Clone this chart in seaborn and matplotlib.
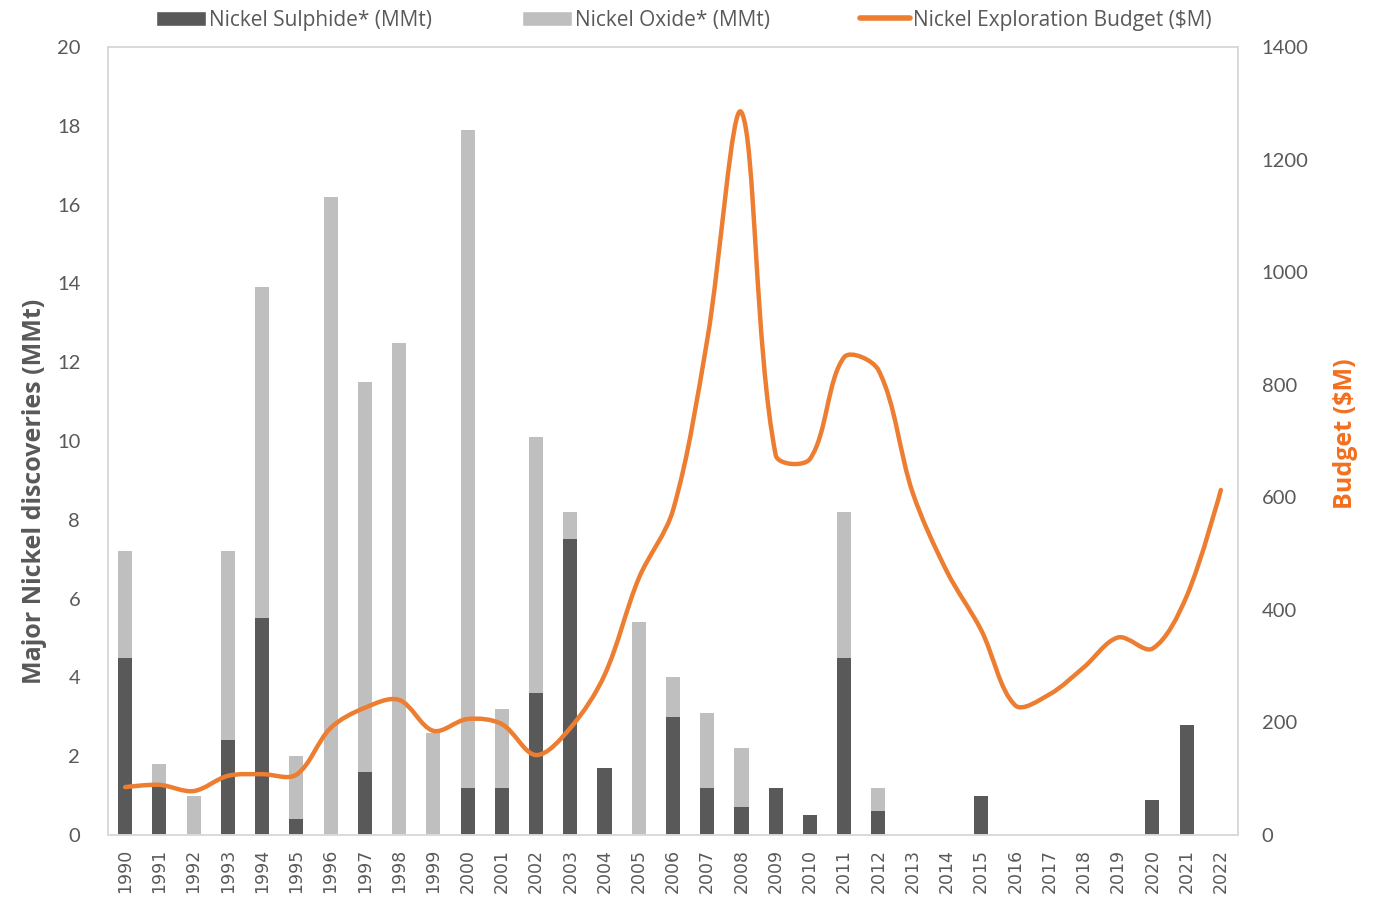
import numpy as np
import pandas as pd
import matplotlib.pyplot as plt
import seaborn as sns
from matplotlib.path import Path
from matplotlib.patches import PathPatch, Patch
from matplotlib.lines import Line2D

# Data
years = list(range(1990, 2023))
sulphide = [4.5, 1.3, 0.0, 2.4, 5.5, 0.4, 0.0, 1.6, 0.0, 0.0,
            1.2, 1.2, 3.6, 7.5, 1.7, 0.0, 3.0, 1.2, 0.7, 1.2,
            0.5, 4.5, 0.6, 0.0, 0.0, 1.0, 0.0, 0.0, 0.0, 0.0,
            0.9, 2.8, 0.0]
oxide = [2.7, 0.5, 1.0, 4.8, 8.4, 1.6, 16.2, 9.9, 12.5, 2.6,
         16.7, 2.0, 6.5, 0.7, 0.0, 5.4, 1.0, 1.9, 1.5, 0.0,
         0.0, 3.7, 0.6, 0.0, 0.0, 0.0, 0.0, 0.0, 0.0, 0.0,
         0.0, 0.0, 0.0]
budget = [85, 89, 78, 105, 108, 107, 190, 226, 240, 185,
          206, 197, 142, 190, 284, 456, 577, 880, 1284, 675,
          668, 849, 826, 608, 468, 364, 230, 250, 298, 351,
          331, 424, 613]

df = pd.DataFrame({'year': [str(y) for y in years],
                   'sulphide': sulphide, 'oxide': oxide, 'budget': budget})
df['total'] = df['sulphide'] + df['oxide']

c_sul = '#595959'
c_ox = '#BFBFBF'
c_line = '#ED7D31'
c_text = '#595959'

sns.set_style('white')
plt.rcParams['font.family'] = ['Open Sans', 'DejaVu Sans']

fig, ax = plt.subplots(figsize=(13.76, 9.01), dpi=100)
fig.subplots_adjust(left=0.0785, right=0.8997, top=0.9478, bottom=0.0733)

# stacked bars: total (oxide on top) then sulphide over it
sns.barplot(data=df, x='year', y='total', color=c_ox, saturation=1,
            width=0.41, linewidth=0, ax=ax)
sns.barplot(data=df, x='year', y='sulphide', color=c_sul, saturation=1,
            width=0.41, linewidth=0, ax=ax)

ax.set_ylim(0, 20)
ax.set_yticks(np.arange(0, 21, 2))
ax.set_xlim(-0.5, len(years) - 0.5)
ax.set_xlabel('')
ax.set_ylabel('Major Nickel discoveries (MMt)', fontsize=18, fontweight='bold',
              color=c_text)
ax.yaxis.set_label_coords(-0.054, 0.4365)
ax.tick_params(axis='x', labelrotation=90, labelsize=12.5, colors=c_text, length=0, pad=10)
ax.tick_params(axis='y', labelsize=14.5, colors=c_text, length=0, pad=20)
for lbl in ax.get_xticklabels():
    lbl.set_family('DejaVu Sans')
for lbl in ax.get_yticklabels():
    lbl.set_family(['Lato', 'DejaVu Sans'])
for s in ax.spines.values():
    s.set_color('#D9D9D9')
    s.set_linewidth(1.2)

# budget line on secondary axis, smoothed (bezier through every data point)
ax2 = ax.twinx()
x = np.arange(len(years), dtype=float)
y = np.array(budget, dtype=float)
pts = np.column_stack([x, y])
sx, sy = 34.2, 0.563  # pixels per data unit, used to weigh the tangents
n = len(pts)


def seglen(a, b):
    return np.hypot((b[0] - a[0]) * sx, (b[1] - a[1]) * sy)


def tangent(i):
    if i == 0 or i == n - 1:
        return np.zeros(2), 1.0, 1.0
    return pts[i + 1] - pts[i - 1], seglen(pts[i - 1], pts[i]), seglen(pts[i], pts[i + 1])


verts = [pts[0]]
codes = [Path.MOVETO]
k = 1.0 / 3.0
for i in range(n - 1):
    t1, a1, b1 = tangent(i)
    t2, a2, b2 = tangent(i + 1)
    c1 = pts[i] + t1 * k * b1 / (a1 + b1)
    c2 = pts[i + 1] - t2 * k * a2 / (a2 + b2)
    verts += [c1, c2, pts[i + 1]]
    codes += [Path.CURVE4] * 3
ax2.add_patch(PathPatch(Path(verts, codes), facecolor='none', edgecolor=c_line,
                        lw=3.2, capstyle='round', joinstyle='round'))
ax2.set_ylim(0, 1400)
ax2.set_yticks(np.arange(0, 1401, 200))
ax2.tick_params(axis='y', labelsize=14.5, colors=c_text, length=0, pad=17)
for lbl in ax2.get_yticklabels():
    lbl.set_family(['Lato', 'DejaVu Sans'])
ax2.set_ylabel('Budget ($M)', fontsize=18, fontweight='bold', color='#F26F1E')
ax2.yaxis.set_label_coords(1.084, 0.509)
for s in ax2.spines.values():
    s.set_color('#D9D9D9')
    s.set_linewidth(1.2)

handles = [Patch(facecolor=c_sul), Patch(facecolor=c_ox),
           Line2D([0], [0], color=c_line, lw=4)]
labels = ['Nickel Sulphide* (MMt)', 'Nickel Oxide* (MMt)',
          'Nickel Exploration Budget ($M)']
fig.legend(handles, labels, loc='upper center', bbox_to_anchor=(0.497, 1.01), ncol=3,
           frameon=False, fontsize=15, handlelength=2.4, handleheight=0.7,
           handletextpad=0.15, columnspacing=4.3, labelcolor=c_text)

fig.savefig('out.png', dpi=100)
